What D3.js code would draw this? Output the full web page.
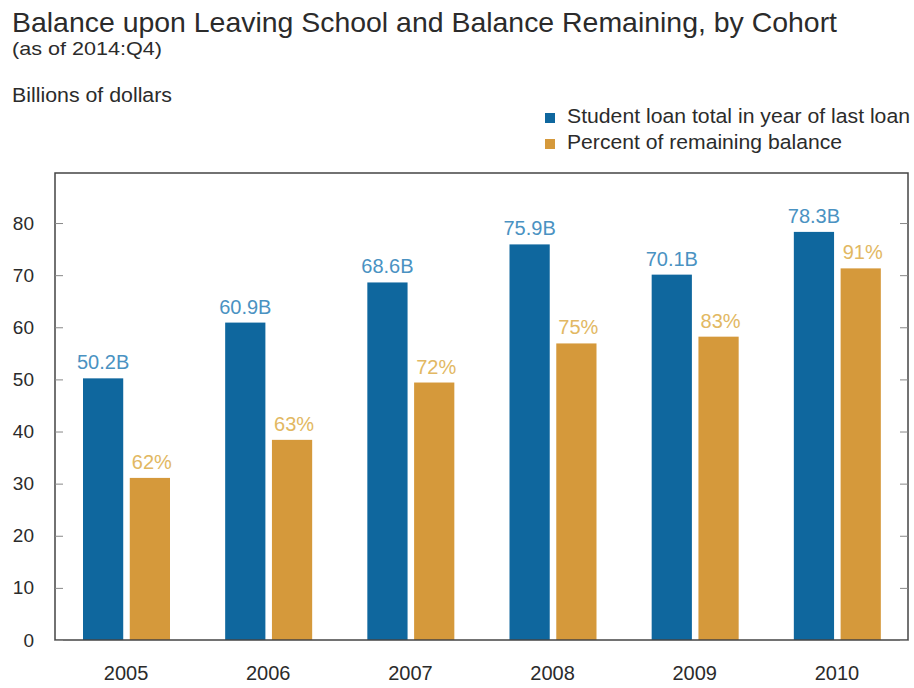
<!DOCTYPE html>
<html><head><meta charset="utf-8">
<script src="https://cdn.jsdelivr.net/npm/d3@7"></script>
<style>body{margin:0;background:#fff}svg{display:block}text{font-family:"Liberation Sans",Arial,sans-serif}</style>
</head><body>
<script>
const categories = ["2005","2006","2007","2008","2009","2010"];
const loanTotal = [50.2, 60.9, 68.6, 75.9, 70.1, 78.3];
const remaining = [31.1, 38.4, 49.4, 56.9, 58.2, 71.3];
const loanLabels = ["50.2B","60.9B","68.6B","75.9B","70.1B","78.3B"];
const pctLabels = ["62%","63%","72%","75%","83%","91%"];
const yTicks = [0,10,20,30,40,50,60,70,80];
const seriesNames = ["Student loan total in year of last loan","Percent of remaining balance"];

const W = 914, H = 688;
const pLeft = 55, pRight = 908, pTop = 173, pBottom = 640;
const blue = "#0f679e", gold = "#d5993b";
const blueText = "#4a92c2", goldText = "#e2b862";

const svg = d3.select("body").append("svg").attr("width", W).attr("height", H);

const x = d3.scaleBand().domain(categories).range([pLeft, pRight]).paddingInner(0).paddingOuter(0);
const xs = d3.scaleBand().domain(["a","b"]).range([28, 115]).paddingInner(0.14).paddingOuter(0);
const y = d3.scaleLinear().domain([0, 89.6]).range([pBottom, pTop]);

// titles
svg.append("text").attr("x", 12).attr("y", 32).attr("font-size", 28).attr("fill", "#2b2b2b")
  .attr("textLength", 825).attr("lengthAdjust", "spacingAndGlyphs")
  .text("Balance upon Leaving School and Balance Remaining, by Cohort");
svg.append("text").attr("x", 12).attr("y", 55).attr("font-size", 19).attr("fill", "#2b2b2b")
  .attr("textLength", 150).attr("lengthAdjust", "spacingAndGlyphs")
  .text("(as of 2014:Q4)");
svg.append("text").attr("x", 12).attr("y", 102).attr("font-size", 20).attr("fill", "#2b2b2b")
  .attr("textLength", 160).attr("lengthAdjust", "spacingAndGlyphs")
  .text("Billions of dollars");

// legend
const legLen = [343, 275];
const leg = svg.append("g");
[blue, gold].forEach((c, i) => {
  leg.append("rect").attr("x", 545).attr("y", 113 + i * 26).attr("width", 10).attr("height", 10).attr("fill", c);
  leg.append("text").attr("x", 567).attr("y", 123 + i * 26).attr("font-size", 20.5).attr("fill", "#2b2b2b")
    .attr("textLength", legLen[i]).attr("lengthAdjust", "spacingAndGlyphs").text(seriesNames[i]);
});

// bars
const g = svg.append("g");
categories.forEach((c, i) => {
  const gx = x(c);
  g.append("rect").attr("x", gx + xs("a")).attr("y", y(loanTotal[i])).attr("width", xs.bandwidth())
    .attr("height", y(0) - y(loanTotal[i])).attr("fill", blue);
  g.append("rect").attr("x", gx + xs("b")).attr("y", y(remaining[i])).attr("width", xs.bandwidth())
    .attr("height", y(0) - y(remaining[i])).attr("fill", gold);
  g.append("text").attr("x", gx + xs("a") + xs.bandwidth() / 2).attr("y", y(loanTotal[i]) - 9)
    .attr("text-anchor", "middle").attr("font-size", 20).attr("fill", blueText).text(loanLabels[i]);
  g.append("text").attr("x", gx + xs("b") + xs.bandwidth() / 2 + 2).attr("y", y(remaining[i]) - 9)
    .attr("text-anchor", "middle").attr("font-size", 20).attr("fill", goldText).text(pctLabels[i]);
});

// frame
svg.append("rect").attr("x", pLeft).attr("y", pTop).attr("width", pRight - pLeft).attr("height", pBottom - pTop)
  .attr("fill", "none").attr("stroke", "#444").attr("stroke-width", 1.5);

// axes
const yl = svg.append("g").attr("transform", `translate(${pLeft},0)`)
  .call(d3.axisRight(y).tickValues(yTicks).tickSize(8).tickFormat(""));
yl.select(".domain").remove();
yl.selectAll("line").attr("stroke", "#888");
const yr = svg.append("g").attr("transform", `translate(${pRight},0)`)
  .call(d3.axisLeft(y).tickValues(yTicks).tickSize(8).tickFormat(""));
yr.select(".domain").remove();
yr.selectAll("line").attr("stroke", "#888");
const ylab = svg.append("g").attr("transform", `translate(${pLeft},0)`)
  .call(d3.axisLeft(y).tickValues(yTicks).tickSize(0).tickPadding(21));
ylab.select(".domain").remove();
ylab.selectAll("text").attr("font-size", 19).attr("fill", "#2b2b2b").attr("font-family", "Liberation Sans, Arial, sans-serif");

const xa = svg.append("g").attr("transform", `translate(0,${pBottom})`)
  .call(d3.axisBottom(x).tickSize(0).tickPadding(26));
xa.select(".domain").remove();
xa.selectAll("text").attr("font-size", 20).attr("fill", "#2b2b2b").attr("font-family", "Liberation Sans, Arial, sans-serif");
</script>
</body></html>
